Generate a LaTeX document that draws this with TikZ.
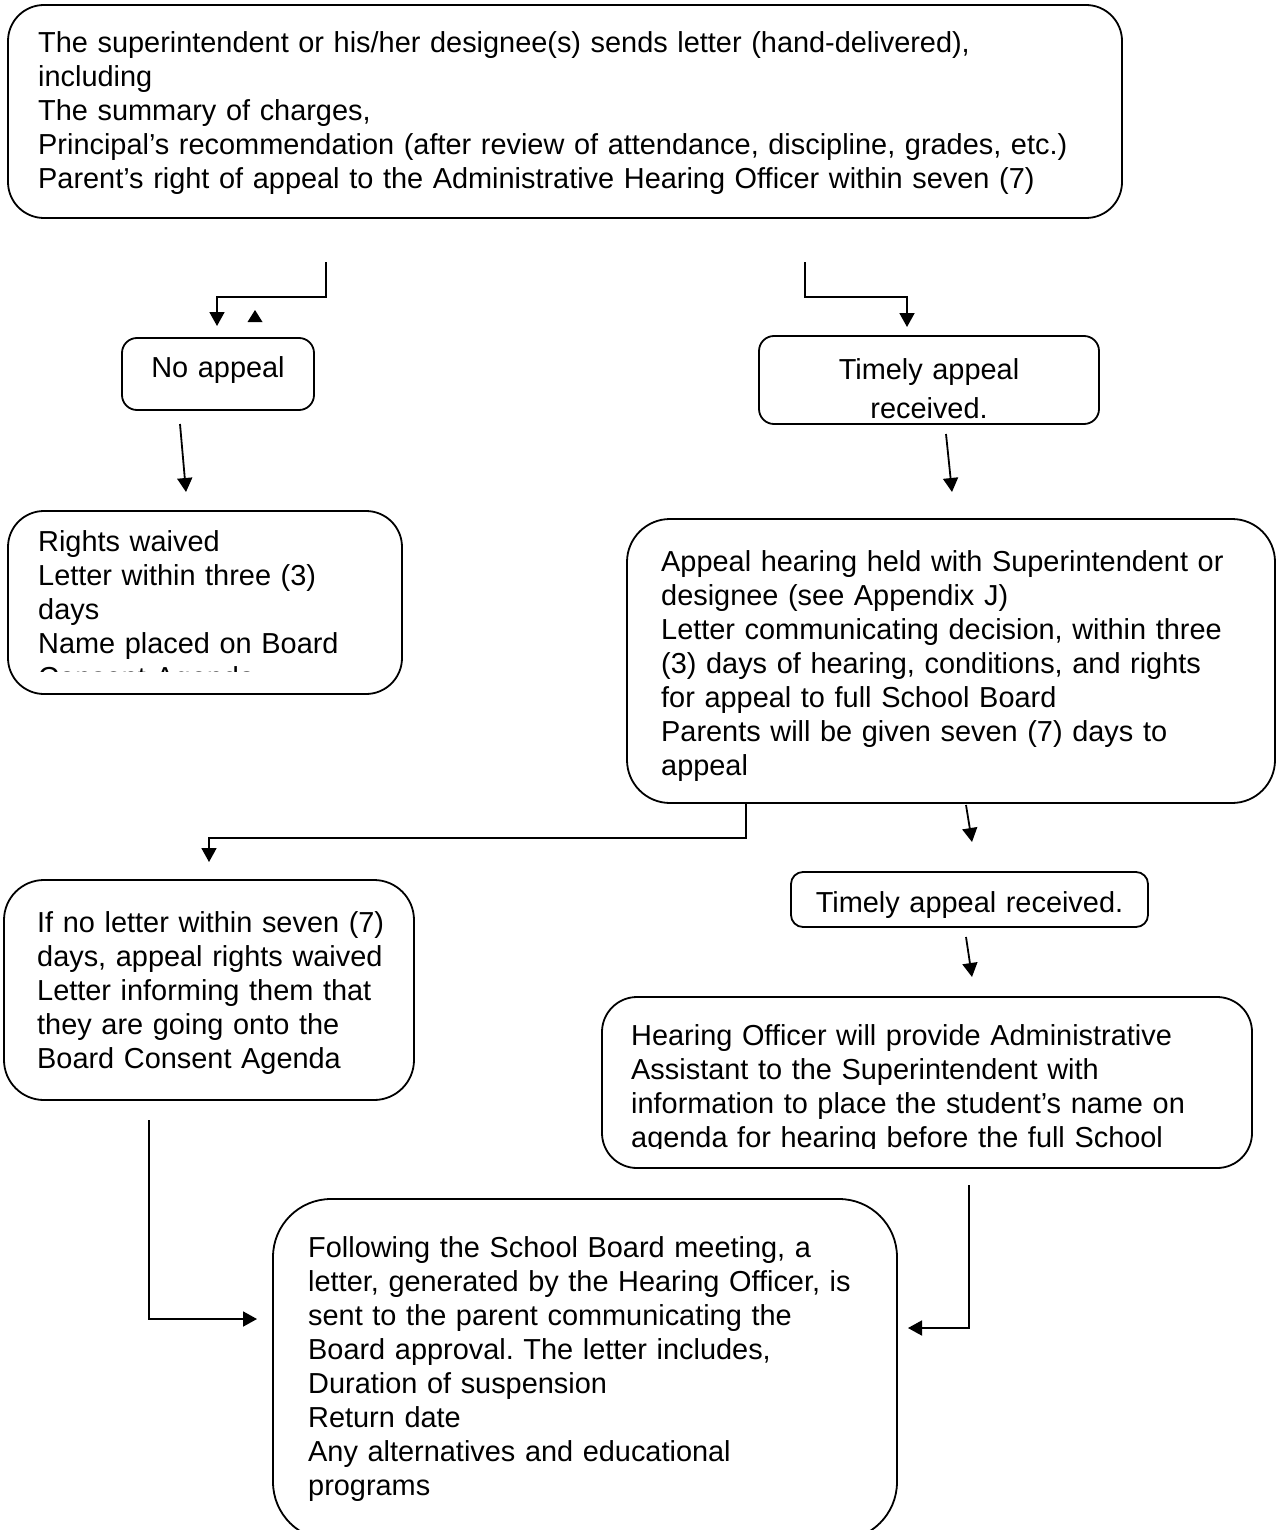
\documentclass[tikz,border=0pt]{standalone}
\usepackage{fontspec}
\setmainfont{Liberation Sans}
\usetikzlibrary{arrows.meta}
\frenchspacing
\tikzset{
  flowbox/.style={draw, line width=1.8pt, rounded corners=#1, inner sep=0pt},
  body/.style={font=\fontsize{28.9}{34}\selectfont, inner sep=0pt, anchor=base west, align=left, text width=#1},
  mid/.style={font=\fontsize{28.9}{34}\selectfont, inner sep=0pt, anchor=base, align=center, text width=#1},
  link/.style={line width=1.8pt},
  arr/.style={link, -{Triangle[length=14pt,width=15pt]}},
}
\begin{document}
\begin{tikzpicture}[x=1pt,y=-1pt]
\useasboundingbox (0,0) rectangle (1281,1530);
\clip (0,0) rectangle (1281,1530);
\fill[white] (0,0) rectangle (1281,1530);

% ---- boxes ----
\node[flowbox=36pt, minimum width=1114pt, minimum height=213pt] (letter) at (565,111.5) {};
\node[flowbox=15pt, minimum width=192pt, minimum height=72pt] (noappeal) at (218,374) {};
\node[flowbox=15pt, minimum width=340pt, minimum height=88pt] (timely) at (929,380) {};
\node[flowbox=36pt, minimum width=394pt, minimum height=183pt] (waived) at (205,602.5) {};
\node[flowbox=43pt, minimum width=648pt, minimum height=284pt] (hearing) at (951,661) {};
\node[flowbox=12pt, minimum width=357pt, minimum height=55pt] (timelyb) at (969.5,899.5) {};
\node[flowbox=40pt, minimum width=410pt, minimum height=220pt] (noletter) at (209,990) {};
\node[flowbox=35pt, minimum width=650pt, minimum height=171pt] (officer) at (927,1082.5) {};
\node[flowbox=58pt, minimum width=624pt, minimum height=341pt] (board) at (585,1369.5) {};

% ---- texts ----
\node[body=1080pt] (letterT) at (38,53) {The superintendent or his/her designee(s) sends letter (hand-delivered),\\
including\\
The summary of charges,\\
Principal’s recommendation (after review of attendance, discipline, grades, etc.)\\
Parent’s right of appeal to the Administrative Hearing Officer within seven (7)};

\node[mid=190pt] (noappealT) at (218,377) {No appeal};
\node[mid=330pt] (timelyT) at (929,379) {Timely appeal\\[5pt]received.};

\begin{scope}
\clip (8,511) rectangle (402,671);
\node[body=360pt] (waivedT) at (38,551) {Rights waived\\
Letter within three (3)\\
days\\
Name placed on Board\\
Consent Agenda};
\end{scope}

\node[body=600pt] (hearingT) at (661,571) {Appeal hearing held with Superintendent or\\
designee (see Appendix J)\\
Letter communicating decision, within three\\
(3) days of hearing, conditions, and rights\\
for appeal to full School Board\\
Parents will be given seven (7) days to\\
appeal};

\begin{scope}
\clip (791,872) rectangle (1148,917);
\node[mid=350pt] (timelybT) at (969.5,912) {Timely appeal received.};
\end{scope}

\node[body=370pt] (noletterT) at (37,932) {If no letter within seven (7)\\
days, appeal rights waived\\
Letter informing them that\\
they are going onto the\\
Board Consent Agenda};

\begin{scope}
\clip (602,997) rectangle (1252,1148);
\node[body=610pt] (officerT) at (631,1045) {Hearing Officer will provide Administrative\\
Assistant to the Superintendent with\\
information to place the student’s name on\\
agenda for hearing before the full School};
\end{scope}

\node[body=570pt] (boardT) at (308,1257) {Following the School Board meeting, a\\
letter, generated by the Hearing Officer, is\\
sent to the parent communicating the\\
Board approval. The letter includes,\\
Duration of suspension\\
Return date\\
Any alternatives and educational\\
programs};

% ---- connector ends ----
\coordinate (a1) at (326,262);  \coordinate (a1e) at (217,326);
\coordinate (a2) at (805,262);  \coordinate (a2e) at (907,327);
\coordinate (a3) at (180,424);  \coordinate (a3e) at (186,492);
\coordinate (a4) at (946,434);  \coordinate (a4e) at (952,492);
\coordinate (a5) at (746,803);  \coordinate (a5e) at (209,862);
\coordinate (a6) at (966,805);  \coordinate (a6e) at (972,842);
\coordinate (a7) at (966,937);  \coordinate (a7e) at (972,977);
\coordinate (a8) at (149,1120); \coordinate (a8e) at (257,1319);
\coordinate (a9) at (969,1185); \coordinate (a9e) at (908,1328);

% ---- connectors ----
\draw[arr] (a1) -- ++(0,35) -| (a1e);
\fill (247.5,322) -- (255,310) -- (262.5,322) -- cycle;
\draw[arr] (a2) -- ++(0,35) -| (a2e);
\draw[arr] (a3) -- (a3e);
\draw[arr] (a4) -- (a4e);
\draw[arr] (a5) -- ++(0,35) -| (a5e);
\draw[arr] (a6) -- (a6e);
\draw[arr] (a7) -- (a7e);
\draw[arr] (a8) |- (a8e);
\draw[arr] (a9) |- (a9e);
\end{tikzpicture}
\end{document}
